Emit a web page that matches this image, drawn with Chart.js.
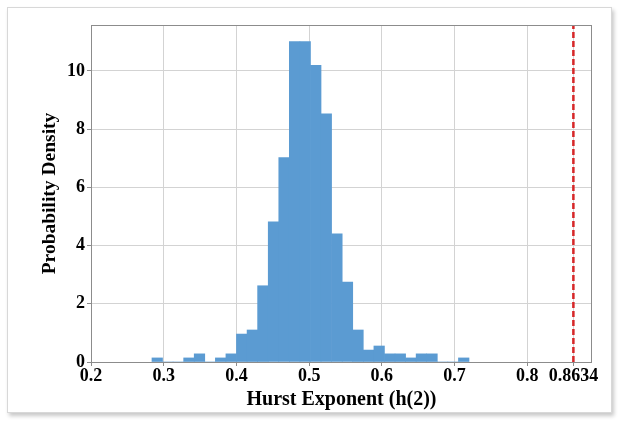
<!DOCTYPE html>
<html>
<head>
<meta charset="utf-8">
<script src="https://cdn.jsdelivr.net/npm/chart.js@4.4.1/dist/chart.umd.min.js"></script>
<style>
  html, body { margin: 0; padding: 0; background: #ffffff; }
  #frame { position: absolute; left: 7px; top: 7px; width: 603px; height: 404px;
           border: 1px solid #d8d8d8; box-shadow: 2px 3px 4px rgba(0,0,0,0.22); background: #fff; }
  #c { position: absolute; left: 0; top: 0; }
</style>
</head>
<body>
<div id="frame"></div>
<canvas id="c" width="618" height="421"></canvas>
<script>
// Histogram bin centres (Hurst exponent h(2))
const binCenters = [0.2911, 0.3056, 0.3201, 0.3347, 0.3492, 0.3637, 0.3783, 0.3928, 0.4073, 0.4219,
                    0.4364, 0.4510, 0.4655, 0.4800, 0.4946, 0.5091, 0.5236, 0.5382, 0.5527, 0.5672,
                    0.5818, 0.5963, 0.6108, 0.6254, 0.6399, 0.6544, 0.6690, 0.6835, 0.6980, 0.7126];
// Probability density per bin
const densities = [0.14, 0, 0, 0.14, 0.28, 0, 0.14, 0.28, 0.96, 1.10,
                   2.62, 4.82, 7.02, 11.01, 11.01, 10.19, 8.53, 4.40, 2.75, 1.10,
                   0.41, 0.55, 0.28, 0.28, 0.14, 0.28, 0.28, 0, 0, 0.14];
// Observed value marked by the red dashed line
const observedValue = 0.8634;
const xTickValues = [0.2, 0.3, 0.4, 0.5, 0.6, 0.7, 0.8, 0.8634];
const xTickLabels = ['0.2', '0.3', '0.4', '0.5', '0.6', '0.7', '0.8', '0.8634'];
const yTickValues = [0, 2, 4, 6, 8, 10];
const yTickLabels = ['0', '2', '4', '6', '8', '10'];
const xMin = 0.2, xMax = 0.889, yMin = 0, yMax = 11.58;

const FONT = '"Liberation Serif", "Times New Roman", serif';

const boxPlugin = {
  id: 'plotBox',
  afterDatasetsDraw(chart) {
    const a = chart.chartArea, ctx = chart.ctx;
    ctx.save();
    ctx.strokeStyle = '#8c8c8c';
    ctx.lineWidth = 1;
    ctx.strokeRect(Math.round(a.left) + 0.5, Math.round(a.top) + 0.5,
                   Math.round(a.right - a.left) - 1, Math.round(a.bottom - a.top));
    ctx.restore();
  }
};

new Chart(document.getElementById('c'), {
  type: 'bar',
  data: {
    datasets: [
      {
        type: 'line',
        data: [{x: observedValue, y: yMin}, {x: observedValue, y: yMax}],
        borderColor: '#d62728',
        borderWidth: 2.5,
        borderDash: [6, 3],
        pointRadius: 0,
        fill: false,
        order: 0
      },
      {
        type: 'bar',
        data: binCenters.map((c, i) => ({x: c, y: densities[i]})),
        backgroundColor: '#5b9bd2',
        borderWidth: 0,
        barPercentage: 1.0,
        categoryPercentage: 1.0,
        order: 1
      }
    ]
  },
  options: {
    responsive: false,
    animation: false,
    devicePixelRatio: 1,
    layout: { padding: { left: 0, right: 26, top: 25, bottom: 0 } },
    plugins: { legend: { display: false }, tooltip: { enabled: false } },
    scales: {
      x: {
        type: 'linear',
        offset: false,
        min: xMin, max: xMax,
        afterBuildTicks: s => { s.ticks = xTickValues.map(v => ({value: v})); },
        afterFit: s => { s.height = 59; },
        ticks: {
          autoSkip: false, maxRotation: 0, padding: 0,
          color: '#000',
          font: { family: FONT, size: 18, weight: 'bold' },
          callback: (v, i) => xTickLabels[i]
        },
        grid: { offset: false, color: '#d3d3d3', lineWidth: 1, drawTicks: true, tickLength: 4, tickColor: '#8c8c8c' },
        border: { display: false },
        title: {
          display: true, text: 'Hurst Exponent (h(2))', color: '#000',
          font: { family: FONT, size: 20, weight: 'bold' },
          padding: { top: 4, bottom: 9 }
        }
      },
      y: {
        min: yMin, max: yMax,
        afterBuildTicks: s => { s.ticks = yTickValues.map(v => ({value: v})); },
        afterFit: s => { s.width = 91; },
        ticks: {
          padding: 2, color: '#000',
          font: { family: FONT, size: 18, weight: 'bold' },
          callback: (v, i) => yTickLabels[i]
        },
        grid: { color: '#d3d3d3', lineWidth: 1, drawTicks: true, tickLength: 4, tickColor: '#8c8c8c' },
        border: { display: false },
        title: {
          display: true, text: 'Probability Density', color: '#000',
          font: { family: FONT, size: 19.5, weight: 'bold' },
          padding: { top: 38, bottom: 0 }
        }
      }
    }
  },
  plugins: [boxPlugin]
});
</script>
</body>
</html>
